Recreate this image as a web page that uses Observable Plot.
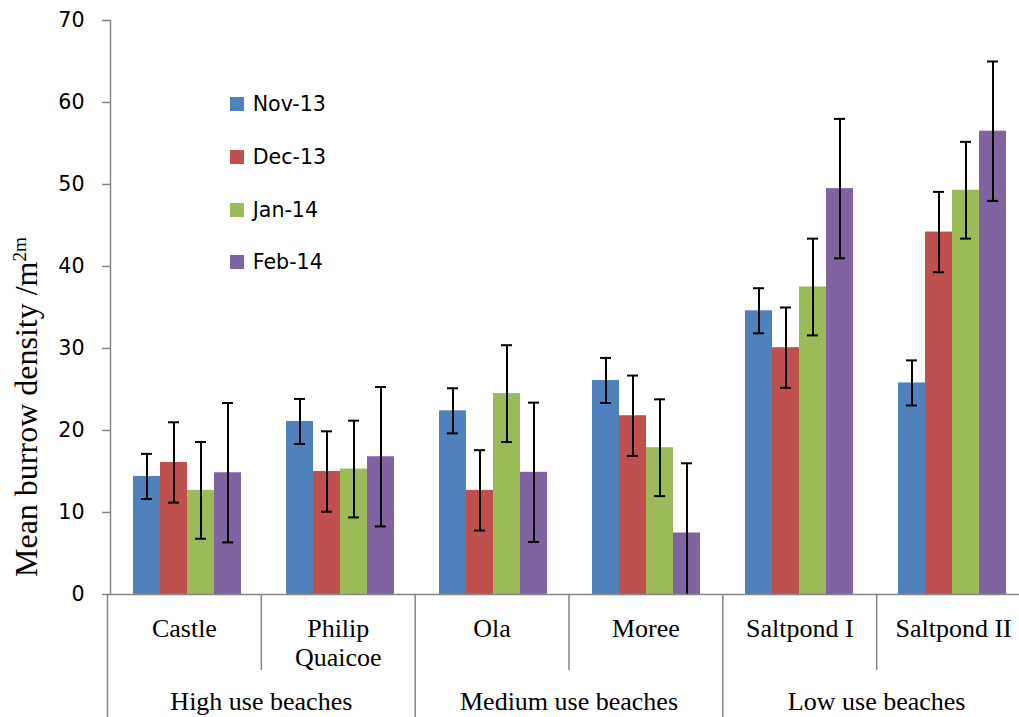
<!DOCTYPE html>
<html><head><meta charset="utf-8">
<script src="https://cdn.jsdelivr.net/npm/d3@7"></script>
<script src="https://cdn.jsdelivr.net/npm/@observablehq/plot@0.6"></script>
<style>
html,body{margin:0;padding:0;background:#fff;overflow:hidden;}
#chart{position:relative;width:1019px;height:717px;overflow:hidden;background:#fff;}
#chart svg{position:absolute;left:0;}
#ylabel{position:absolute;left:26px;top:407px;transform:translate(-50%,-50%) rotate(-90deg);font-family:"Liberation Serif","Times New Roman",serif;font-size:32px;line-height:1;white-space:nowrap;color:#000;}
#ylabel sup{font-size:0.6em;vertical-align:11px;line-height:0;}
#legend{position:absolute;left:230px;top:78px;font-family:"DejaVu Sans",sans-serif;font-size:20.6px;color:#000;}
.item{display:flex;align-items:center;height:52.7px;}
.sw{width:14px;height:14px;margin-right:8.7px;}
</style></head><body><div id="chart"></div>
<script>
const beaches = ["Castle", "Philip\nQuaicoe", "Ola", "Moree", "Saltpond I", "Saltpond II"];
const beachGroup = [0, 0, 1, 1, 2, 2];
const useGroups = ["High use beaches", "Medium use beaches", "Low use beaches"];
const months = ["Nov-13", "Dec-13", "Jan-14", "Feb-14"];
const colors = ["#4F81BD", "#C0504D", "#9BBB59", "#8064A2"];
const nov13 = [14.4, 21.1, 22.4, 26.1, 34.6, 25.8];
const dec13 = [16.1, 15.0, 12.7, 21.8, 30.1, 44.2];
const jan14 = [12.7, 15.3, 24.5, 17.9, 37.5, 49.3];
const feb14 = [14.85, 16.8, 14.9, 7.5, 49.5, 56.5];
const errors = [2.75, 4.9, 5.9, 8.5];
const yTicks = [0, 10, 20, 30, 40, 50, 60, 70];

const series = [nov13, dec13, jan14, feb14];
const rows = [];
series.forEach((vals, j) => vals.forEach((v, i) => rows.push({
  beach: beaches[i], month: months[j], value: v,
  lo: Math.max(0, v - errors[j]), hi: v + errors[j]
})));

const axisGrey = "#868686";
const chart = document.getElementById("chart");

const p1 = Plot.plot({
  width: 1030, height: 614, marginTop: 20, marginBottom: 20, marginLeft: 107, marginRight: 0,
  style: "max-width:none;overflow:visible;background:transparent;top:0;font-family:'DejaVu Sans',sans-serif;",
  fx: {domain: beaches, padding: 0, axis: null},
  x: {domain: months, paddingInner: 0, paddingOuter: 0.747, axis: null},
  y: {domain: [0, 70], label: null},
  color: {domain: months, range: colors},
  marks: [
    Plot.barY(rows, {fx: "beach", x: "month", y: "value", fill: "month"}),
    Plot.ruleX(rows, {fx: "beach", x: "month", y1: "lo", y2: "hi", stroke: "black", strokeWidth: 2}),
    Plot.tickY(rows, {fx: "beach", x: "month", y: "hi", stroke: "black", strokeWidth: 2, insetLeft: 8, insetRight: 8}),
    Plot.tickY(rows.filter(d => d.lo > 0), {fx: "beach", x: "month", y: "lo", stroke: "black", strokeWidth: 2, insetLeft: 8, insetRight: 8}),
    Plot.ruleY([0], {stroke: axisGrey, strokeWidth: 1.5}),
    Plot.axisY(yTicks, {tickSize: 8, stroke: axisGrey, strokeWidth: 1.5, fill: "none"}),
    Plot.text(yTicks, {y: d => d, frameAnchor: "left", textAnchor: "end", dx: -26, facetAnchor: "left",
      fontSize: 20.6, fontFamily: "DejaVu Sans", fill: "black"}),
    Plot.frame({anchor: "left", facetAnchor: "left", stroke: axisGrey, strokeWidth: 1.5})
  ]
});
chart.appendChild(p1);

const boundaries = d3.range(beaches.length + 1).map(k => ({
  k,
  depth: (k === 0 || k === beaches.length || beachGroup[k - 1] !== beachGroup[k]) ? 2 : 1
}));
const groupCenters = useGroups.map((g, gi) => {
  const idx = beachGroup.map((b, i) => b === gi ? i : -1).filter(i => i >= 0);
  return {label: g, x: (d3.min(idx) + d3.max(idx) + 1) / 2};
});

const p2 = Plot.plot({
  width: 1030, height: 162, marginTop: 10, marginBottom: 0, marginLeft: 107, marginRight: 0,
  style: "max-width:none;overflow:visible;background:transparent;top:584px;",
  x: {domain: [0, beaches.length], range: [107, 1030], axis: null},
  y: {domain: [0, 2], range: [10, 162], axis: null},
  marks: [
    Plot.ruleX(boundaries, {x: "k", y1: 0, y2: "depth", stroke: axisGrey, strokeWidth: 1.5}),
    Plot.text(beaches, {x: (d, i) => i + 0.5, y: 0, text: d => d, lineAnchor: "top", dy: 21, fontSize: 26, fontFamily: "Liberation Serif", lineHeight: 1.14, fill: "black"}),
    Plot.text(groupCenters, {x: "x", y: 1, text: "label", lineAnchor: "top", dy: 21, fontSize: 26, fontFamily: "Liberation Serif", fill: "black"})
  ]
});
chart.appendChild(p2);

const yl = document.createElement("div");
yl.id = "ylabel";
yl.innerHTML = "Mean burrow density /m<sup>2m</sup>";
chart.appendChild(yl);

const lg = d3.select(chart).append("div").attr("id", "legend");
const items = lg.selectAll(".item").data(months).join("div").attr("class", "item");
items.append("div").attr("class", "sw").style("background", (d, i) => colors[i]);
items.append("span").text(d => d);
</script></body></html>
